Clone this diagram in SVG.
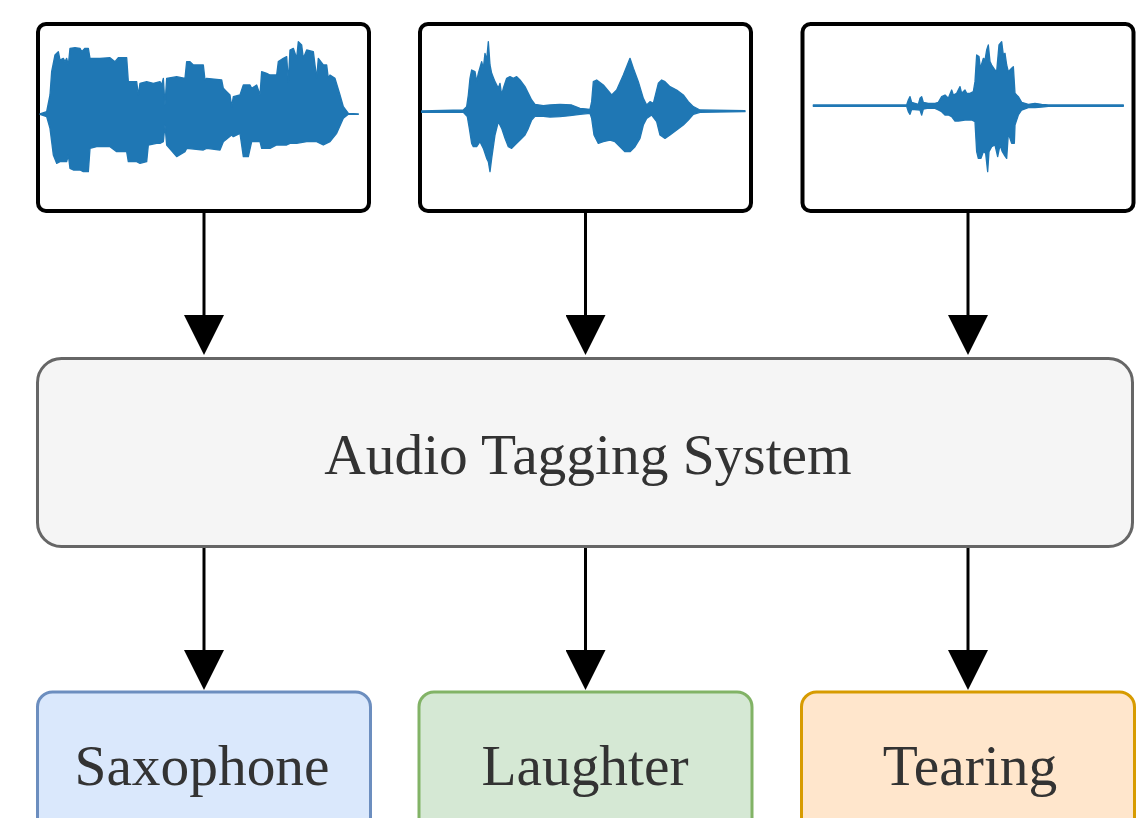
<svg xmlns="http://www.w3.org/2000/svg" width="1136" height="818" viewBox="0 0 1136 818">
<style>
.src{fill:#ffffff;stroke:#000000;stroke-width:4}
.wave{fill:#1f77b4;stroke:#1f77b4;stroke-width:4;stroke-linejoin:round}
.conn{stroke:#000000;stroke-width:3;fill:none}
.lbl{font-family:"Liberation Serif","Times New Roman",serif;font-size:57.4px;fill:#333333;text-anchor:middle}
</style>
<defs>
<marker id="ah" viewBox="0 0 40 40" markerWidth="40" markerHeight="40" markerUnits="userSpaceOnUse" refX="25" refY="20" orient="auto">
<path d="M0,0 L40,20 L0,40 Z" fill="#000000"/>
</marker>
</defs>
<rect width="1136" height="818" fill="#ffffff"/>

<g id="audio1">
<rect class="src" x="38" y="24" width="331" height="187" rx="8"/>
<g transform="translate(30,15) scale(0.33333)">
<path class="wave" d="M30,297 L50,290 60,240 65,170 75,120 85,110 90,135 100,130 105,140 110,130 115,150 120,100 135,98 150,100 155,110 165,100 175,100 180,130 210,130 240,128 255,140 265,128 290,128 295,200 320,200 325,240 330,205 350,200 370,205 390,200 395,210 400,190 405,270 410,190 440,185 465,190 470,140 480,140 490,150 520,150 525,195 530,190 575,195 580,220 590,230 600,240 605,275 610,245 630,240 640,210 660,210 665,220 680,210 690,240 695,170 710,175 720,180 740,180 745,140 760,130 770,125 775,200 780,105 790,100 800,130 805,80 815,90 820,130 830,105 850,110 860,190 865,130 880,150 890,150 895,190 900,180 915,190 930,240 940,275 955,295 985,297 L985,298 955,298 940,310 920,355 900,380 880,390 860,380 830,380 800,385 780,385 770,390 740,390 720,400 695,400 690,380 665,380 655,425 640,425 630,355 610,365 605,360 580,380 570,405 530,400 520,405 470,400 465,410 440,425 410,390 405,330 400,380 390,385 380,385 355,390 350,440 330,445 320,440 295,440 290,410 260,410 240,395 200,395 180,400 175,470 160,470 150,465 130,465 120,460 115,420 110,440 100,440 90,440 80,445 70,420 60,340 50,305 30,298 Z"/>
</g>
</g>

<g id="audio2">
<rect class="src" x="420" y="24" width="331" height="187" rx="8"/>
<g transform="translate(410,15) scale(0.33333)">
<path class="wave" d="M35,288 L160,285 170,275 175,240 180,190 185,165 195,170 200,200 205,175 215,140 220,160 225,115 230,135 235,80 240,150 245,175 255,200 265,220 270,205 275,240 280,220 290,190 300,185 310,190 320,185 330,195 345,215 355,235 365,255 375,268 400,272 420,270 450,268 485,270 510,280 540,283 545,260 550,200 560,195 580,210 605,240 620,225 640,180 660,130 670,160 685,200 700,250 710,270 720,260 730,265 745,205 755,195 765,200 780,215 800,225 820,240 835,260 850,275 870,285 1005,287 L1005,290 870,292 850,298 835,315 820,330 800,345 780,360 765,370 750,360 740,320 725,300 710,310 700,330 690,370 675,395 660,410 645,410 630,395 615,380 600,375 580,380 565,385 552,360 545,310 540,295 510,298 480,302 450,305 420,306 400,304 375,304 365,315 355,340 345,360 330,375 320,385 305,400 295,395 285,370 275,340 265,320 255,360 245,430 240,470 235,440 230,430 220,400 210,380 200,395 190,395 185,385 178,340 172,305 160,292 35,292 Z"/>
</g>
</g>

<g id="audio3">
<rect class="src" x="802.5" y="24" width="331" height="187" rx="8"/>
<g transform="translate(795,15) scale(0.33333)">
<path class="wave" d="M55,270 L335,270 340,255 345,245 350,262 370,268 375,250 380,245 385,262 400,265 420,265 430,262 440,245 450,240 460,250 470,225 475,240 485,235 495,215 500,235 510,225 515,235 525,235 535,230 540,200 545,120 552,125 556,160 565,130 570,135 575,105 580,90 585,140 590,150 600,165 605,170 612,90 620,80 625,120 630,115 635,150 640,170 650,160 655,155 660,235 670,245 680,262 700,268 720,265 740,268 760,270 985,270 L985,274 760,274 740,276 720,278 700,278 680,285 670,300 660,330 658,385 650,385 640,355 635,430 628,420 622,410 615,390 608,425 600,390 590,395 582,410 578,470 572,415 565,410 558,430 550,430 545,410 540,320 530,315 510,315 490,318 480,318 470,305 460,300 450,300 440,290 430,285 420,280 400,279 385,282 380,300 375,285 350,283 345,298 340,290 335,274 55,274 Z"/>
</g>
</g>

<g id="system">
<rect x="37.5" y="358.5" width="1095" height="188" rx="24" fill="#f5f5f5" stroke="#666666" stroke-width="3"/>
<text class="lbl" x="588" y="474">Audio Tagging System</text>
</g>

<g id="saxophone">
<rect x="37.5" y="692" width="333" height="200" rx="15" fill="#dae8fc" stroke="#6c8ebf" stroke-width="3"/>
<text class="lbl" x="202" y="785">Saxophone</text>
</g>
<g id="laughter">
<rect x="419" y="692" width="333" height="200" rx="15" fill="#d5e8d4" stroke="#82b366" stroke-width="3"/>
<text class="lbl" x="585" y="785">Laughter</text>
</g>
<g id="tearing">
<rect x="801.5" y="692" width="333" height="200" rx="15" fill="#ffe6cc" stroke="#d79b00" stroke-width="3"/>
<text class="lbl" x="970" y="785">Tearing</text>
</g>

<g id="connectors">
<line class="conn" x1="204" y1="213" x2="204" y2="340" marker-end="url(#ah)"/>
<line class="conn" x1="585.5" y1="213" x2="585.5" y2="340" marker-end="url(#ah)"/>
<line class="conn" x1="968" y1="213" x2="968" y2="340" marker-end="url(#ah)"/>
<line class="conn" x1="204" y1="548" x2="204" y2="675" marker-end="url(#ah)"/>
<line class="conn" x1="585.5" y1="548" x2="585.5" y2="675" marker-end="url(#ah)"/>
<line class="conn" x1="968" y1="548" x2="968" y2="675" marker-end="url(#ah)"/>
</g>
</svg>
